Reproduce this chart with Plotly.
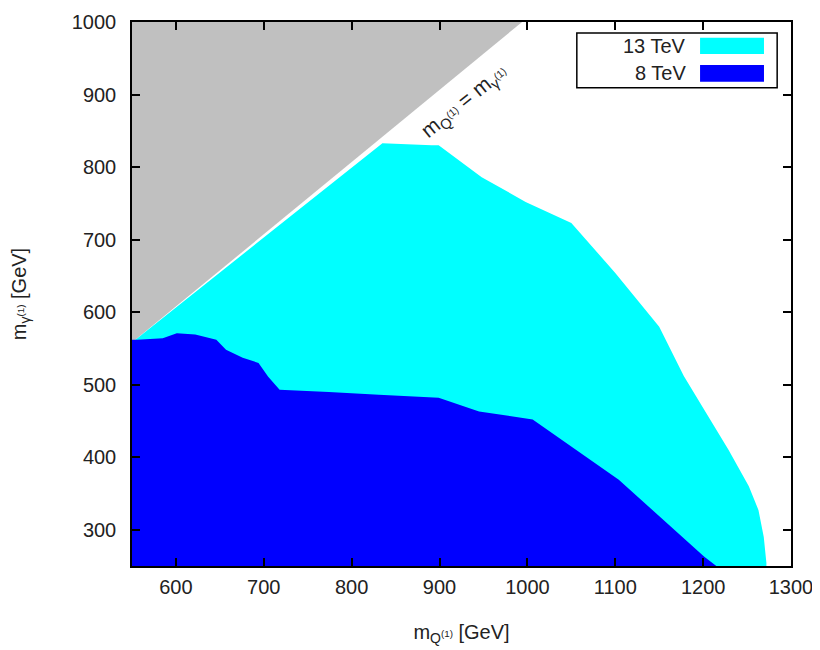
import plotly.graph_objects as go

# Excluded region (m_gamma > m_Q)
gray_x = [550, 994, 550]
gray_y = [558, 1000, 1000]

# 13 TeV reach
x13 = [550, 550, 555, 835, 891, 899, 948, 998, 1050, 1100, 1150, 1178, 1199, 1229, 1252, 1263, 1269, 1272, 1272, 550]
y13 = [250, 559, 563, 833, 830, 830, 786, 752, 723, 654, 580, 512, 470, 410, 360, 327, 290, 254, 250, 250]

# 8 TeV reach
x8 = [550, 550, 556, 585, 601, 622, 646, 657, 676, 694, 705, 718, 774, 831, 899, 945, 1006, 1104, 1201, 1215, 550]
y8 = [250, 562, 562, 564, 571, 569, 562, 548, 537, 530, 511, 493, 490, 486, 482, 463, 452, 369, 263, 250, 250]

xticks = [600, 700, 800, 900, 1000, 1100, 1200, 1300]
yticks = [300, 400, 500, 600, 700, 800, 900, 1000]

FONT = "Liberation Sans"
TXT = "#222222"
FS = 20

fig = go.Figure()
fig.add_trace(go.Scatter(x=gray_x, y=gray_y, fill="toself", mode="none",
                         fillcolor="#c0c0c0", showlegend=False, hoverinfo="skip"))
fig.add_trace(go.Scatter(x=x13, y=y13, fill="toself", mode="none",
                         fillcolor="#00ffff", name="13 TeV", showlegend=False))
fig.add_trace(go.Scatter(x=x8, y=y8, fill="toself", mode="none",
                         fillcolor="#0000ff", name="8 TeV", showlegend=False))

axis_common = dict(showgrid=False, zeroline=False, showline=True, linecolor="black",
                   linewidth=1.5, mirror="ticks", ticks="inside", ticklen=8,
                   tickcolor="black", tickwidth=1.5, automargin=False,
                   ticklabeloverflow="allow",
                   tickfont=dict(family=FONT, size=FS, color=TXT))

fig.update_xaxes(range=[550, 1300], tickvals=xticks, ticktext=[str(v) for v in xticks],
                 title=dict(text="m<sub>Q<sup>(1)</sup></sub> [GeV]",
                            font=dict(family=FONT, size=FS, color=TXT), standoff=28),
                 ticklabelstandoff=2, **axis_common)
fig.update_yaxes(range=[250, 1000], tickvals=yticks, ticktext=[str(v) for v in yticks],
                 title=dict(text="m<sub>γ<sup>(1)</sup></sub> [GeV]",
                            font=dict(family=FONT, size=FS, color=TXT), standoff=40),
                 ticklabelstandoff=10, **axis_common)

# diagonal label
fig.add_annotation(x=928, y=890, xref="x", yref="y", showarrow=False,
                   text="m<sub>Q<sup>(1)</sup></sub> = m<sub>γ<sup>(1)</sup></sub>",
                   textangle=-39, font=dict(family=FONT, size=21, color=TXT))

# manual gnuplot-style legend
fig.add_shape(type="rect", xref="paper", yref="paper", x0=0.675, x1=0.979, y0=0.879, y1=0.980,
              fillcolor="white", line=dict(color="black", width=1.5), layer="above")
fig.add_shape(type="rect", xref="paper", yref="paper", x0=0.862, x1=0.959, y0=0.941, y1=0.971,
              fillcolor="#00ffff", line=dict(width=0), layer="above")
fig.add_shape(type="rect", xref="paper", yref="paper", x0=0.862, x1=0.959, y0=0.890, y1=0.921,
              fillcolor="#0000ff", line=dict(width=0), layer="above")
fig.add_annotation(x=0.844, y=0.956, xref="paper", yref="paper", xanchor="right", yanchor="middle",
                   text="13 TeV", showarrow=False, font=dict(family=FONT, size=FS, color=TXT))
fig.add_annotation(x=0.844, y=0.906, xref="paper", yref="paper", xanchor="right", yanchor="middle",
                   text="8 TeV", showarrow=False, font=dict(family=FONT, size=FS, color=TXT))

# page body adds an 8px margin, so the figure is sized to fit the 820x650 window
fig.update_layout(width=812, height=642, margin=dict(l=124, r=29, t=14, b=84),
                  plot_bgcolor="white", paper_bgcolor="white", showlegend=False)

fig.write_html("out.html")
